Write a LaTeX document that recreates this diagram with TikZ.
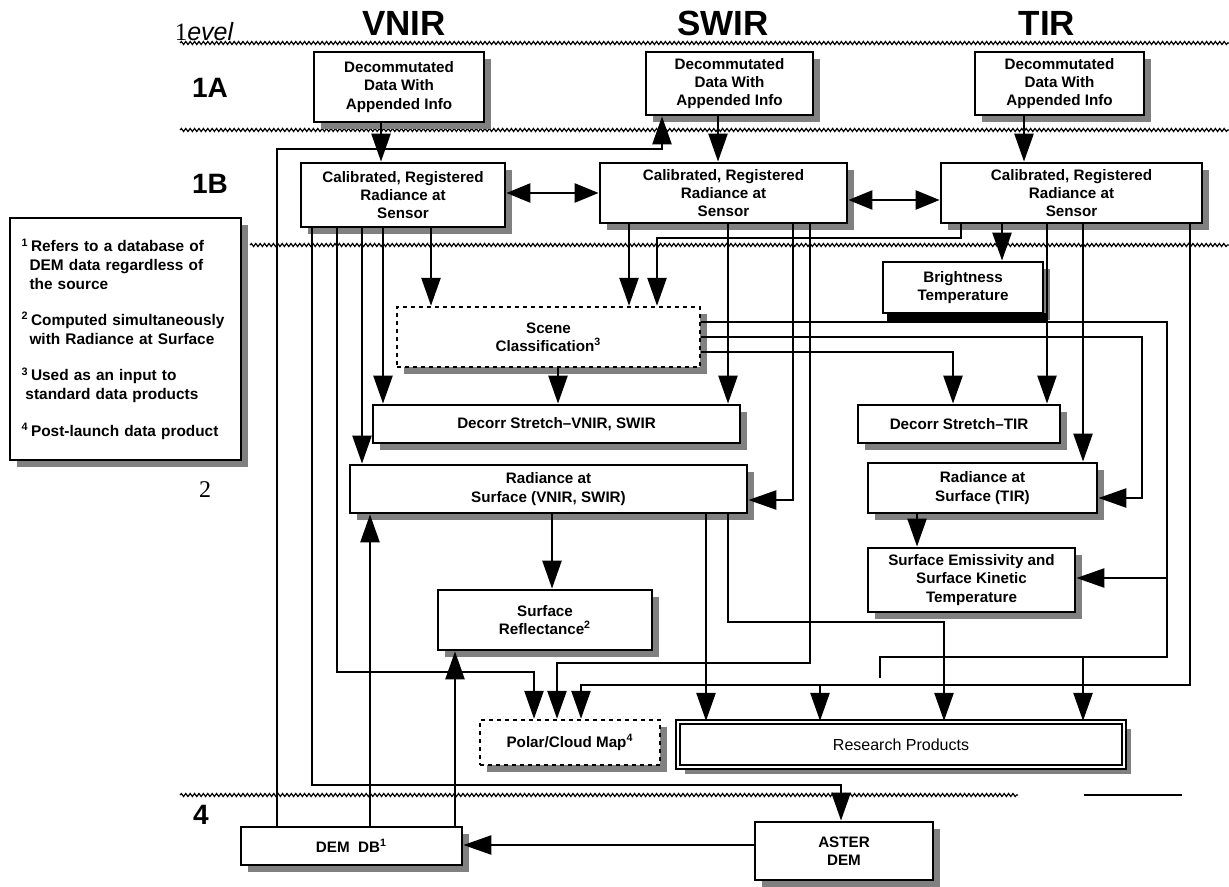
\documentclass[tikz,border=0pt]{standalone}
\usepackage{fontspec}
\setmainfont{Liberation Serif}
\setsansfont{Liberation Sans}
\usetikzlibrary{arrows.meta,shadows,decorations.pathmorphing}
\newcommand\bxfont{\sffamily\bfseries\fontsize{7.6}{9.2}\selectfont}

\begin{document}
\begin{tikzpicture}[x=0.5pt, y=-0.5pt,
    dbox/.style={draw, line width=1.4pt, fill=white, align=center, inner sep=1pt,
                 font=\bxfont,
                 drop shadow={shadow xshift=3.5pt, shadow yshift=-3.5pt,
                              fill=black!50, opacity=1}},
    dashbox/.style={dbox, line width=1.2pt, dash pattern=on 2pt off 2pt},
    conn/.style={line width=1.25pt},
    arr/.style={conn, -{Triangle[width=9.5pt,length=14pt]}},
    darr/.style={conn, {Triangle[width=9.5pt,length=12pt]}-{Triangle[width=9.5pt,length=12pt]}},
    sep/.style={line width=0.6pt, decorate,
                decoration={snake, amplitude=0.75pt, segment length=2.2pt}},
    band/.style={font=\sffamily\bfseries\fontsize{17.5}{20}\selectfont},
    lvl/.style={font=\sffamily\bfseries\fontsize{14}{16}\selectfont},
]
\useasboundingbox (0,0) rectangle (1229,887);

% level separators
\draw[sep] (180,43) -- (1229,43);
\draw[sep] (180,130) -- (1229,130);
\draw[sep] (250,245) -- (1229,245);
\draw[sep] (180,795) -- (1018,795);
\draw[line width=0.9pt] (1084,795) -- (1182,795);

% headings
\node[font=\fontsize{12.5}{14}\selectfont] (lvlhead) at (204,32)
    {{\rmfamily 1}{\sffamily\itshape evel}};
\node[band] (hvnir) at (404,23) {VNIR};
\node[band] (hswir) at (723,23) {SWIR};
\node[band] (htir)  at (1047,23) {TIR};
\node[lvl] (l1a) at (210,88) {1A};
\node[lvl] (l1b) at (210,184) {1B};
\node[font=\rmfamily\fontsize{12}{14}\selectfont] (l2) at (205,490) {2};
\node[lvl] (l4) at (201,815) {4};

% legend
\node[dbox, text width=104pt, inner sep=5.75pt, minimum height=121pt, align=left,
      font=\sffamily\bfseries\fontsize{7.7}{9.3}\selectfont] (legend) at (125.5,339)
    {\textsuperscript{1}\,Refers to a database of\\
     \hspace*{4pt}DEM data regardless of\\
     \hspace*{4pt}the source\\[9pt]
     \textsuperscript{2}\,Computed simultaneously\\
     \hspace*{4pt}with Radiance at Surface\\[9pt]
     \textsuperscript{3}\,Used as an input to\\
     \hspace*{2pt}standard data products\\[9pt]
     \textsuperscript{4}\,Post-launch data product};

% level 1A
\node[dbox, minimum width=85pt, minimum height=35pt] (v1a) at (399,87)
    {Decommutated\\Data With\\Appended Info};
\node[dbox, minimum width=83.5pt, minimum height=31.5pt] (s1a) at (729.5,83.5)
    {Decommutated\\Data With\\Appended Info};
\node[dbox, minimum width=84.5pt, minimum height=31.5pt] (t1a) at (1059.5,83.5)
    {Decommutated\\Data With\\Appended Info};

% level 1B
\node[dbox, minimum width=102pt, minimum height=32pt] (v1b) at (403,195)
    {Calibrated, Registered\\Radiance at\\Sensor};
\node[dbox, minimum width=123.5pt, minimum height=30pt] (s1b) at (723.5,193)
    {Calibrated, Registered\\Radiance at\\Sensor};
\node[dbox, minimum width=130.5pt, minimum height=30pt] (t1b) at (1071.5,193)
    {Calibrated, Registered\\Radiance at\\Sensor};

% level 2
\node[dbox, minimum width=80pt, minimum height=25.5pt] (bright) at (963,287.5)
    {Brightness\\Temperature};
\fill (887,313) rectangle (1048,323);
\node[dashbox, minimum width=151.5pt, minimum height=30pt] (scene) at (548.5,337)
    {Scene\\Classification\textsuperscript{3}};
\node[dbox, minimum width=183.5pt, minimum height=19pt] (dvs) at (556.5,424)
    {Decorr Stretch--VNIR, SWIR};
\node[dbox, minimum width=101pt, minimum height=19pt] (dt) at (959,424)
    {Decorr Stretch--TIR};
\node[dbox, minimum width=198.5pt, minimum height=24pt] (rvs) at (548.5,489)
    {Radiance at\\Surface (VNIR, SWIR)};
\node[dbox, minimum width=114.5pt, minimum height=25pt] (rt) at (982.5,488)
    {Radiance at\\Surface (TIR)};
\node[dbox, minimum width=103.5pt, minimum height=32pt] (se) at (971.5,580)
    {Surface Emissivity and\\Surface Kinetic\\Temperature};
\node[dbox, minimum width=107pt, minimum height=30pt] (sr) at (545,620)
    {Surface\\Reflectance\textsuperscript{2}};
\node[dashbox, minimum width=90pt, minimum height=22.5pt] (polar) at (570,742.5)
    {Polar/Cloud Map\textsuperscript{4}};
\node[dbox, line width=1.1pt, double, double distance=1.1pt, minimum width=223pt,
      minimum height=22.5pt, font=\sffamily\fontsize{8}{9}\selectfont] (res) at (901,744.5)
    {Research Products};

% level 4
\node[dbox, minimum width=110.5pt, minimum height=19pt] (demdb) at (351.5,846)
    {DEM\ \ DB\textsuperscript{1}};
\node[dbox, minimum width=89pt, minimum height=29pt] (ast) at (844,851)
    {ASTER\\DEM};

% junctions
\coordinate (jse)  at (1167,578);
\coordinate (jres) at (1083,657);
\coordinate (jbus) at (820,685);

% 1A to 1B
\draw[arr] (v1a.south -| 381,0) -- (v1b.north -| 381,0);
\draw[arr] (s1a.south -| 718,0) -- (s1b.north -| 718,0);
\draw[arr] (t1a.south -| 1024,0) -- (t1b.north -| 1024,0);
\draw[darr] (v1b.east |- 0,193) -- (s1b.west |- 0,193);
\draw[darr] (s1b.east |- 0,200) -- (t1b.west |- 0,200);
\draw[arr] (demdb.north -| 277,0) |- (662,149) -- (s1a.south -| 662,0);

% from VNIR 1B
\draw[arr] (v1b.south -| 312,0) |- (841,785) -- (ast.north -| 841,0);
\draw[arr] (v1b.south -| 337,0) |- (534,672) -- (polar.north -| 534,0);
\draw[arr] (v1b.south -| 362,0) -- (rvs.north -| 362,0);
\draw[arr] (v1b.south -| 383,0) -- (dvs.north -| 383,0);
\draw[arr] (v1b.south -| 431,0) -- (scene.north -| 431,0);

% from SWIR 1B
\draw[arr] (s1b.south -| 629,0) -- (scene.north -| 629,0);
\draw[arr] (s1b.south -| 728,0) -- (dvs.north -| 728,0);
\draw[arr] (s1b.south -| 793,0) |- (rvs.east |- 0,500);
\draw[arr] (s1b.south -| 810,0) |- (557,663) -- (polar.north -| 557,0);

% from TIR 1B
\draw[arr] (t1b.south -| 961,0) |- (657,238) -- (scene.north -| 657,0);
\draw[arr] (t1b.south -| 1002,0) -- (bright.north -| 1002,0);
\draw[arr] (t1b.south -| 1047,0) -- (dt.north -| 1047,0);
\draw[arr] (t1b.south -| 1083,0) -- (rt.north -| 1083,0);
\draw[arr] (t1b.south -| 1190,0) |- (581,685) -- (polar.north -| 581,0);
\draw[arr] (jbus) -- (res.north -| jbus);

% scene classification
\draw[arr] (scene.south -| 558,0) -- (dvs.north -| 558,0);
\draw[conn] (scene.east |- 0,322) -| (1167,657) -- (880,657) -- (880,678);
\draw[arr] (jse) -- (se.east |- jse);
\draw[arr] (jres) -- (res.north -| jres);
\draw[arr] (scene.east |- 0,337) -| (1142,498) -- (rt.east |- 0,498);
\draw[arr] (scene.east |- 0,352) -| (dt.north -| 953,0);

% surface products
\draw[arr] (rt.south -| 917,0) -- (se.north -| 917,0);
\draw[arr] (rvs.south -| 552,0) -- (sr.north -| 552,0);
\draw[arr] (rvs.south -| 706,0) -- (res.north -| 706,0);
\draw[arr] (rvs.south -| 728,0) |- (944,622) -- (res.north -| 944,0);

% DEM
\draw[arr] (demdb.north -| 370,0) -- (rvs.south -| 370,0);
\draw[arr] (demdb.north -| 455,0) -- (sr.south -| 455,0);
\draw[arr] (ast.west |- 0,845) -- (demdb.east |- 0,845);
\end{tikzpicture}
\end{document}
